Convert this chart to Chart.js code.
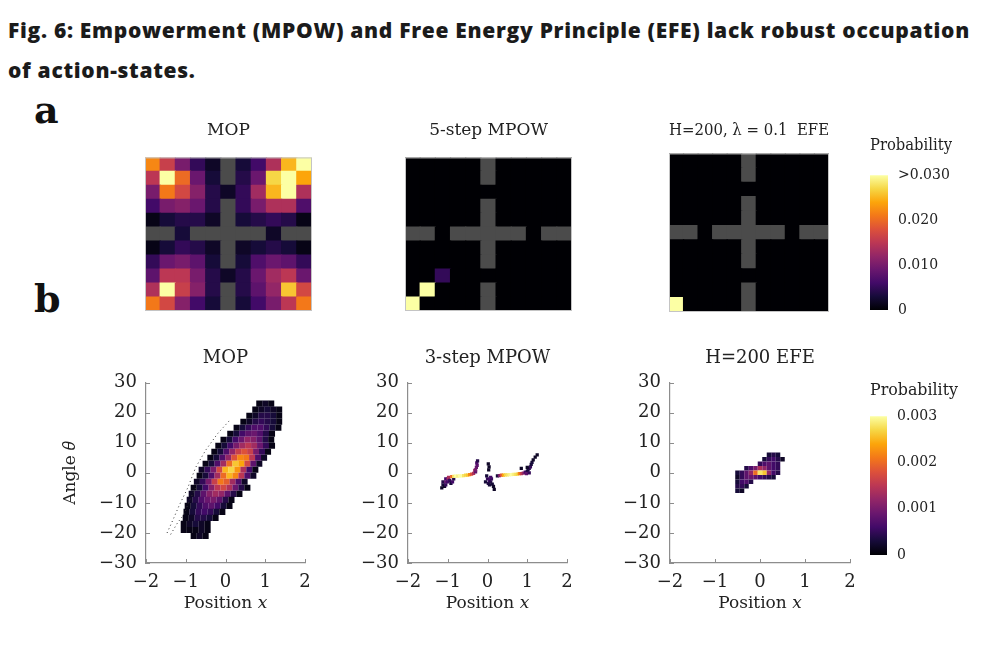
<!DOCTYPE html>
<html>
<head>
<meta charset="utf-8">
<script src="https://cdn.jsdelivr.net/npm/chart.js@4.4.1/dist/chart.umd.min.js"></script>
<style>
  body { margin: 0; background: #fff; width: 988px; height: 646px; position: relative; overflow: hidden; }
  canvas { position: absolute; }
  .head { position: absolute; left: 8px; font-family: 'Open Sans', sans-serif; font-weight: 800; font-size: 21px; letter-spacing: 0.7px; line-height: 1; color: #1b1b1b; white-space: nowrap; }
  .tag { position: absolute; left: 34px; font-family: 'DejaVu Serif', serif; font-weight: 700; font-size: 38px; line-height: 1; color: #111; }
</style>
</head>
<body>
<div class="head" style="top:20px">Fig. 6: Empowerment (MPOW) and Free Energy Principle (EFE) lack robust occupation</div>
<div class="head" style="top:60px">of action-states.</div>
<div class="tag" style="top:91px">a</div>
<div class="tag" style="top:280px">b</div>

<canvas id="heatMop" width="167" height="201" style="left:145px;top:110px"></canvas>
<canvas id="heatMpow" width="167" height="201" style="left:405px;top:110px"></canvas>
<canvas id="heatEfe" width="160" height="202" style="left:669px;top:110px"></canvas>
<canvas id="barA" width="100" height="200" style="left:852px;top:130px"></canvas>

<canvas id="densMop" width="270" height="280" style="left:50px;top:340px"></canvas>
<canvas id="densMpow" width="242" height="280" style="left:340px;top:340px"></canvas>
<canvas id="densEfe" width="265" height="280" style="left:600px;top:340px"></canvas>
<canvas id="barB" width="106" height="200" style="left:852px;top:375px"></canvas>

<script>
// ---------- panel a : 11 x 11 grid world, occupation probability (x 0.001), rows top to bottom
const gridCols = ['0','1','2','3','4','5','6','7','8','9','10'];
const wallMask = [
  [0,0,0,0,0,1,0,0,0,0,0],
  [0,0,0,0,0,1,0,0,0,0,0],
  [0,0,0,0,0,0,0,0,0,0,0],
  [0,0,0,0,0,1,0,0,0,0,0],
  [0,0,0,0,0,1,0,0,0,0,0],
  [1,1,0,1,1,1,1,1,0,1,1],
  [0,0,0,0,0,1,0,0,0,0,0],
  [0,0,0,0,0,1,0,0,0,0,0],
  [0,0,0,0,0,0,0,0,0,0,0],
  [0,0,0,0,0,1,0,0,0,0,0],
  [0,0,0,0,0,1,0,0,0,0,0]
];
const mopGrid = [
  [22,16,10, 5, 2, 0, 3, 6,14,25,31],
  [15,32,20, 9, 3, 0, 4, 9,27,32,24],
  [10,21,17,11, 4, 2, 5,13,25,30,14],
  [ 6,10,11, 9, 4, 0, 5,10,14,14, 7],
  [ 1, 3, 4, 4, 2, 0, 3, 4, 5, 4, 1],
  [ 0, 0, 3, 0, 0, 0, 0, 0, 2, 0, 0],
  [ 1, 3, 5, 4, 2, 0, 2, 3, 4, 3, 1],
  [ 5, 9,10, 8, 3, 0, 3, 7, 9, 8, 5],
  [ 8,15,15,10, 4, 2, 4, 9,13,15, 9],
  [14,32,16,11, 4, 0, 4, 8,12,26,17],
  [21,17,11, 6, 3, 0, 3, 6,10,15,21]
];
const mpowGrid = [
  [0,0,0,0,0,0,0,0,0,0,0],
  [0,0,0,0,0,0,0,0,0,0,0],
  [0,0,0,0,0,0,0,0,0,0,0],
  [0,0,0,0,0,0,0,0,0,0,0],
  [0,0,0,0,0,0,0,0,0,0,0],
  [0,0,0,0,0,0,0,0,0,0,0],
  [0,0,0,0,0,0,0,0,0,0,0],
  [0,0,0,0,0,0,0,0,0,0,0],
  [0,0,5,0,0,0,0,0,0,0,0],
  [0,31,0,0,0,0,0,0,0,0,0],
  [32,0,0,0,0,0,0,0,0,0,0]
];
const efeGrid = [
  [0,0,0,0,0,0,0,0,0,0,0],
  [0,0,0,0,0,0,0,0,0,0,0],
  [0,0,0,0,0,0,0,0,0,0,0],
  [0,0,0,0,0,0,0,0,0,0,0],
  [0,0,0,0,0,0,0,0,0,0,0],
  [0,0,0,0,0,0,0,0,0,0,0],
  [0,0,0,0,0,0,0,0,0,0,0],
  [0,0,0,0,0,0,0,0,0,0,0],
  [0,0,0,0,0,0,0,0,0,0,0],
  [0,0,0,0,0,0,0,0,0,0,0],
  [32,0,0,0,0,0,0,0,0,0,0]
];
const gridMax = 30;          // colour limit, 0.030
const barTicksA = [0, 0.01, 0.02, 0.03];
const barLabelsA = ['0', '0.010', '0.020', '>0.030'];

// ---------- panel b : cart-pole (position, angle) histograms, probability x 1e-4
const xTicks = [-2, -1, 0, 1, 2];
const thetaTicks = [-30, -20, -10, 0, 10, 20, 30];

// MOP: rows of 2-degree bins, 0.15-wide position bins starting at the cloud's left edge
const mopTheta = [23,21,19,17,15,13,11,9,7,5,3,1,-1,-3,-5,-7,-9,-11,-13,-15,-17,-19,-21];
const mopStart = [0.85,0.75,0.6,0.45,0.28,0.12,-0.05,-0.18,-0.28,-0.38,-0.5,-0.6,-0.65,-0.72,-0.8,-0.85,-0.9,-0.95,-0.98,-1.0,-1.05,-1.05,-0.8];
const mopDens = [
  [1,2,1],
  [1,2,3,2,1],
  [1,2,4,4,3,1],
  [1,2,4,5,4,3,1],
  [1,3,5,7,7,5,3,1],
  [1,3,6,8,9,7,4,1],
  [1,3,6,9,12,11,8,4,1],
  [1,3,6,10,13,15,13,9,5,1],
  [1,3,7,12,16,18,16,10,5,1],
  [1,3,7,12,18,22,21,15,7,2],
  [1,3,7,13,20,26,24,17,8,2],
  [2,5,10,17,25,27,23,14,6,1],
  [1,3,7,13,20,25,22,15,7,2],
  [2,5,10,16,21,19,13,7,2],
  [1,3,6,11,15,17,14,9,4,1],
  [2,4,8,11,13,12,8,4,1],
  [2,4,7,9,10,8,4,1],
  [1,3,5,7,8,6,3,1],
  [1,3,5,6,5,3,1],
  [1,2,4,4,3,1],
  [1,2,3,2,1],
  [1,1,1,2,1],
  [1,2,1]
];
const mopBinWidth = 0.15;
// sparse dotted tracks left of the MOP cloud
const trackOuterX = [-1.47,-1.3,-1.17,-0.95,-0.75,-0.5,-0.2,0.04,0.13];
const trackOuterT = [-20,-15,-11,-5,1.8,7.5,13,16.5,17.8];
const trackInnerX = [-1.38,-1.2,-1.05,-0.9,-0.75];
const trackInnerT = [-20.5,-16.5,-14,-9,-5];

// 3-step MPOW: individual occupied cells (position, angle, probability x 1e-4)
const mpowX = [-1.15,-1.12,-1.12,-1.08,-1.05,-1.05,-1.05,-1.0,-1.0,-0.98,-0.95,-0.92,-0.9,-0.88,-0.85,
  -0.85,-0.8,-0.75,-0.7,-0.65,-0.6,-0.55,-0.5,-0.45,-0.4,-0.35,
  -0.32,-0.3,-0.3,-0.28,-0.26,-0.27,-0.25,
  0.02,0.04,0.03,-0.02,0.0,0.05,0.08,0.1,0.02,0.12,0.15,0.17,-0.05,0.08,0.05,
  0.25,0.3,0.35,0.4,0.45,0.5,0.55,0.6,0.65,0.7,0.75,0.8,0.85,0.9,
  0.95,1.0,1.02,1.05,1.08,1.1,0.98,1.05,1.12,1.15,1.2,1.25,0.85,1.0];
const mpowT = [-5,-4,-3,-4.5,-2,-3,-4,-2,-3,-1.5,-2.5,-3.5,-1.3,-3,-2,
  -1.2,-1.1,-1.1,-1.0,-1.0,-0.9,-0.8,-0.8,-0.6,-0.4,-0.2,
  0.8,0.3,1,1.8,2.5,3.3,4,
  3,2,1,-1,-2,-2.5,-3,-2,-3.5,-3.8,-4.5,-5.5,-3,-1.5,-4,
  -1,-0.9,-0.8,-0.8,-0.7,-0.7,-0.6,-0.6,-0.5,-0.5,-0.4,-0.3,-0.3,-0.1,
  0.2,0.5,1,1.5,2,2.8,-0.3,0,3.5,4.3,5.2,6,1.5,1.8];
const mpowP = [2,3,4,2,6,8,5,10,6,14,5,3,20,6,4,
  28,30,29,30,30,28,27,26,22,18,14,
  12,8,10,9,8,7,4,
  2,2,2,3,5,6,4,5,4,3,2,2,3,6,3,
  3,10,18,24,27,28,29,30,29,28,27,22,16,12,
  6,4,3,4,5,3,8,5,3,2,2,2,2,2];

// H=200 EFE: rows of 1.5-degree bins, 0.1-wide position bins starting at efeStart
const efeTheta = [6,4.5,3,1.5,0,-1.5,-3,-4.5,-6];
const efeStart = [0.2,0.1,0,-0.3,-0.5,-0.5,-0.5,-0.5,-0.5];
const efeDens = [
  [3,4,3],
  [3,5,6,4,2],
  [5,7,8,6,5],
  [4,7,10,14,12,8,6,5],
  [3,5,8,12,20,28,26,12,6,4],
  [2,5,8,9,8,6,5,4,3],
  [3,6,7,4],
  [4,5,3],
  [3,2]
];
const efeBinWidth = 0.1;
const densMax = 30;          // colour limit, 0.003
const barTicksB = [0, 0.001, 0.002, 0.003];
const barLabelsB = ['0', '0.001', '0.002', '0.003'];

// ---------- styling helpers
const ink = '#222';
const axisGray = '#8d8d8d';
const wallGray = '#4b4b4b';
const INFERNO = ['#000004','#160b39','#420a68','#6a176e','#932667','#bc3754','#dd513a','#f37819','#fca50a','#f6d746','#fcffa4'];
const serif = (size) => ({ family: "'DejaVu Serif', serif", size: size, weight: 'normal', lineHeight: 1.2 });
const minus = (v) => String(v).replace('-', '\u2212');

function hexRgb(h) { return [1, 3, 5].map(i => parseInt(h.substr(i, 2), 16)); }
function inferno(t) {
  t = Math.max(0, Math.min(1, t));
  const s = t * 10, i = Math.min(9, Math.floor(s)), f = s - i;
  const a = hexRgb(INFERNO[i]), b = hexRgb(INFERNO[i + 1]);
  return 'rgb(' + a.map((v, k) => Math.round(v + (b[k] - v) * f)).join(',') + ')';
}

const frame = {
  id: 'frame',
  afterDraw(chart) {
    const { ctx, chartArea: a } = chart;
    ctx.save();
    ctx.strokeStyle = '#c4c4c4';
    ctx.lineWidth = 1;
    ctx.strokeRect(a.left + 0.5, a.top + 0.5, a.width - 1, a.height - 1);
    ctx.restore();
  }
};

const innerTicks = {
  id: 'innerTicks',
  afterDraw(chart) {
    const { ctx, chartArea: a, scales } = chart;
    ctx.save();
    ctx.strokeStyle = axisGray;
    ctx.lineWidth = 1;
    ctx.beginPath();
    scales.x.ticks.forEach(t => {
      const px = Math.round(scales.x.getPixelForValue(t.value)) + 0.5;
      ctx.moveTo(px, a.bottom); ctx.lineTo(px, a.bottom - 4);
    });
    scales.y.ticks.forEach(t => {
      const py = Math.round(scales.y.getPixelForValue(t.value)) + 0.5;
      ctx.moveTo(a.left, py); ctx.lineTo(a.left + 4, py);
    });
    ctx.stroke();
    ctx.restore();
  }
};

function heatChart(id, grid, title, padTop, padBottom) {
  const datasets = [];
  for (let r = grid.length - 1; r >= 0; r--) {
    const colours = grid[r].map((v, c) => wallMask[r][c] ? wallGray : inferno(v / gridMax));
    datasets.push({
      data: grid[r].map(() => 1),
      backgroundColor: colours,
      borderWidth: 0,
      inflateAmount: 0.6,
      barPercentage: 1,
      categoryPercentage: 1
    });
  }
  return new Chart(document.getElementById(id), {
    type: 'bar',
    data: { labels: gridCols, datasets: datasets },
    options: {
      responsive: false, animation: false, events: [],
      plugins: {
        legend: { display: false }, tooltip: { enabled: false },
        title: { display: true, text: title, fullSize: false, color: ink, font: serif(17),
                 padding: { top: padTop, bottom: padBottom } }
      },
      scales: {
        x: { stacked: true, display: false },
        y: { stacked: true, display: false, min: 0, max: grid.length }
      }
    },
    plugins: [frame]
  });
}

function colourBar(id, vmax, ticks, labels, axisWidth, padTop, padBottom) {
  return new Chart(document.getElementById(id), {
    type: 'bar',
    data: {
      labels: ['p'],
      datasets: [{
        data: [vmax],
        barPercentage: 1, categoryPercentage: 1, borderWidth: 0,
        backgroundColor: (ctx) => {
          const a = ctx.chart.chartArea;
          if (!a) return '#000';
          const g = ctx.chart.ctx.createLinearGradient(0, a.bottom, 0, a.top);
          INFERNO.forEach((c, i) => g.addColorStop(i / 10, c));
          return g;
        }
      }]
    },
    options: {
      responsive: false, animation: false, events: [],
      layout: { padding: { left: 18, bottom: 20 } },
      plugins: {
        legend: { display: false }, tooltip: { enabled: false },
        title: { display: true, text: 'Probability', color: ink, font: serif(16),
                 padding: { top: padTop, bottom: padBottom } }
      },
      scales: {
        x: { display: false },
        y: {
          position: 'right', min: 0, max: vmax,
          grid: { display: false, drawTicks: false }, border: { display: false },
          afterBuildTicks: (s) => { s.ticks = ticks.map(v => ({ value: v })); },
          ticks: { color: ink, font: serif(14), padding: 10,
                   callback: (v, i) => labels[i] },
          afterFit: (s) => { s.width = axisWidth; }
        }
      }
    }
  });
}

function binPoints(thetas, starts, dens, step) {
  const pts = [];
  thetas.forEach((th, r) => dens[r].forEach((p, i) => pts.push({ x: starts[r] + i * step, y: th, p: p })));
  return pts;
}

function cellSet(points, radius) {
  return {
    data: points,
    pointStyle: 'rect',
    pointRadius: radius,
    borderWidth: 0,
    backgroundColor: (ctx) => ctx.raw ? inferno(ctx.raw.p / densMax) : '#000'
  };
}

function densityChart(id, datasets, title, yWidth, yTitle) {
  return new Chart(document.getElementById(id), {
    type: 'scatter',
    data: { datasets: datasets },
    options: {
      responsive: false, animation: false, events: [],
      layout: { padding: { right: 15 } },
      plugins: {
        legend: { display: false }, tooltip: { enabled: false },
        title: { display: true, text: title, fullSize: false, color: ink, font: serif(18),
                 padding: { top: 8, bottom: 13 } }
      },
      scales: {
        x: {
          type: 'linear', min: -2, max: 2,
          afterBuildTicks: (s) => { s.ticks = xTicks.map(v => ({ value: v })); },
          grid: { display: false, drawTicks: false },
          border: { color: axisGray, width: 1.2 },
          ticks: { color: ink, font: serif(18), padding: 9, callback: minus },
          title: { display: true, text: 'Position \ud835\udc65', color: ink, font: serif(17), padding: { top: 0, bottom: 6 } },
          afterFit: (s) => { s.height = 57; }
        },
        y: {
          type: 'linear', min: -30, max: 30,
          afterBuildTicks: (s) => { s.ticks = thetaTicks.map(v => ({ value: v })); },
          grid: { display: false, drawTicks: false },
          border: { color: axisGray, width: 1.2 },
          ticks: { color: ink, font: serif(18), padding: 9, callback: minus },
          title: { display: !!yTitle, text: yTitle || '', color: ink, font: serif(17), padding: { top: 10, bottom: 0 } },
          afterFit: (s) => { s.width = yWidth; }
        }
      }
    },
    plugins: [innerTicks]
  });
}

// ---------- panel a
heatChart('heatMop', mopGrid, 'MOP', 10, 17);
heatChart('heatMpow', mpowGrid, '5-step MPOW', 10, 17);
heatChart('heatEfe', efeGrid, 'H=200, \u03bb = 0.1  EFE', 10, 13);
colourBar('barA', gridMax / 1000, barTicksA, barLabelsA, 64, 6, 20);

// ---------- panel b
const trackStyle = { showLine: true, borderColor: '#333', borderWidth: 1, borderDash: [1, 3], pointRadius: 0, fill: false };
densityChart('densMop', [
  Object.assign({ data: trackOuterX.map((x, i) => ({ x: x, y: trackOuterT[i] })) }, trackStyle),
  Object.assign({ data: trackInnerX.map((x, i) => ({ x: x, y: trackInnerT[i] })) }, trackStyle),
  cellSet(binPoints(mopTheta, mopStart, mopDens, mopBinWidth), 4.3)
], 'MOP', 96, 'Angle \ud835\udf03');

densityChart('densMpow', [
  cellSet(mpowX.map((x, i) => ({ x: x, y: mpowT[i], p: mpowP[i] })), 2.3)
], '3-step MPOW', 68, null);

densityChart('densEfe', [
  cellSet(binPoints(efeTheta, efeStart, efeDens, efeBinWidth), 3.2)
], 'H=200 EFE', 70, null);

colourBar('barB', densMax / 10000, barTicksB, barLabelsB, 71, 6, 16);
</script>
</body>
</html>
